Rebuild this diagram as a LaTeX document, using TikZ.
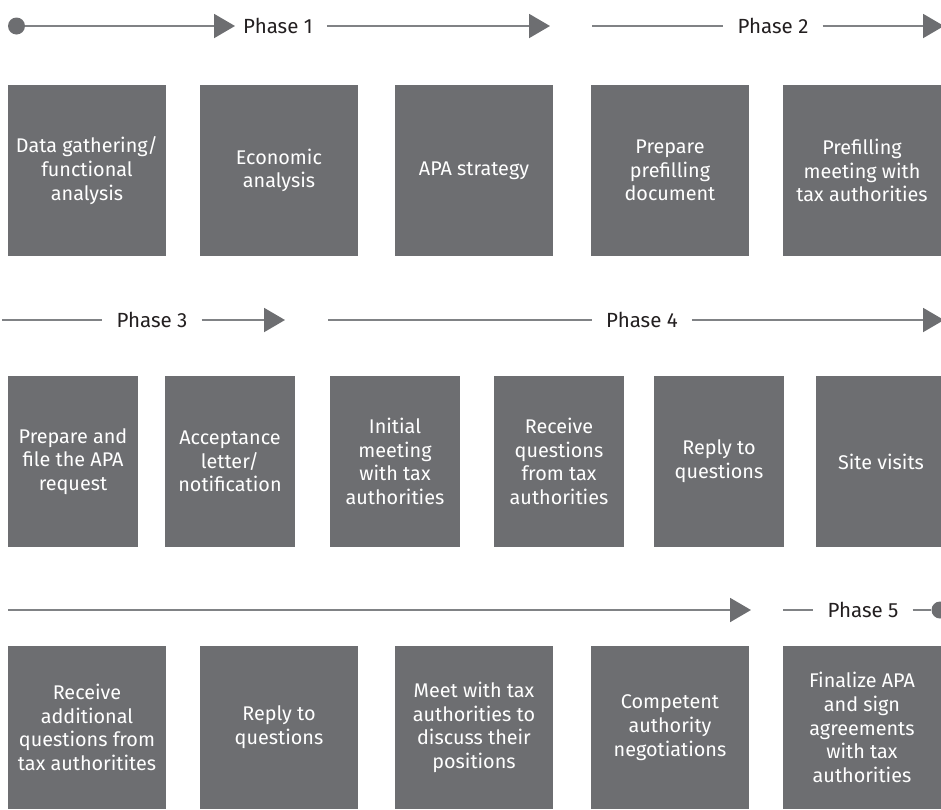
\documentclass[tikz,border=0pt]{standalone}
\usepackage{fontspec}
\setmainfont{Fira Sans}
\usetikzlibrary{arrows.meta}
\definecolor{boxgray}{HTML}{6D6E71}
\definecolor{linegray}{HTML}{808285}
\definecolor{txtdark}{HTML}{231F20}
\begin{document}
\begin{tikzpicture}[x=1pt,y=-1pt,
  stepbox/.style={fill=boxgray, text=white, inner sep=0pt, align=center,
    font=\fontsize{19.8}{23.7}\selectfont},
  widebox/.style={stepbox, minimum width=158pt, minimum height=171pt},
  narrowbox/.style={stepbox, minimum width=130pt, minimum height=171pt},
  lowbox/.style={stepbox, minimum width=158pt, minimum height=163pt},
  phase/.style={text=txtdark, inner ysep=0pt, inner xsep=14pt, font=\fontsize{20.5}{24}\selectfont},
  conn/.style={draw=linegray, line width=2pt},
  arr/.style={conn, -{Triangle[length=21pt,width=24pt,color=boxgray]}},
  dot/.style={circle, fill=boxgray, minimum size=17pt, inner sep=0pt}
]
\useasboundingbox (0,0) rectangle (941,809);

% ---------- Row 1 timeline ----------
\node[dot] (s1) at (16.5,26) {};
\coordinate (t1) at (235,26);
\node[phase] (p1) at (278,26) {Phase 1};
\coordinate (t2) at (550,26);
\coordinate (a2) at (592,26);
\node[phase] (p2) at (773,26) {Phase 2};
\coordinate (t3) at (944,26);
\draw[arr] (s1) -- (t1);
\draw[arr] (p1.east) -- (t2);
\draw[conn] (a2) -- (p2.west);
\draw[arr] (p2.east) -- (t3);

% ---------- Row 1 boxes ----------
\node[widebox] (b11) at (87,170.5) {Data gathering/\\functional\\analysis};
\node[widebox] (b12) at (279,170.5) {Economic\\analysis};
\node[widebox] (b13) at (474,170.5) {APA strategy};
\node[widebox] (b14) at (670,170.5) {Prepare\\prefilling\\document};
\node[widebox] (b15) at (862,170.5) {Prefilling\\meeting with\\tax authorities};

% ---------- Row 2 timeline ----------
\coordinate (a3) at (2,320);
\node[phase] (p3) at (152,320) {Phase 3};
\coordinate (t4) at (285,320);
\coordinate (a4) at (328,320);
\node[phase] (p4) at (642,320) {Phase 4};
\coordinate (t5) at (944,320);
\draw[conn] (a3) -- (p3.west);
\draw[arr] (p3.east) -- (t4);
\draw[conn] (a4) -- (p4.west);
\draw[arr] (p4.east) -- (t5);

% ---------- Row 2 boxes ----------
\node[narrowbox] (b21) at (73,461.5) {Prepare and\\file the APA\\request};
\node[narrowbox] (b22) at (230,461.5) {Acceptance\\letter/\\notification};
\node[narrowbox] (b23) at (395,461.5) {Initial\\meeting\\with tax\\authorities};
\node[narrowbox] (b24) at (559,461.5) {Receive\\questions\\from tax\\authorities};
\node[narrowbox] (b25) at (719,461.5) {Reply to\\questions};
\node[narrowbox] (b26) at (881,461.5) {Site visits};

% ---------- Row 3 timeline ----------
\coordinate (a5) at (8,610);
\coordinate (t6) at (751,610);
\coordinate (a6) at (783,610);
\node[phase] (p5) at (863,610) {Phase 5};
\node[dot] (e5) at (940,610) {};
\draw[arr] (a5) -- (t6);
\draw[conn] (a6) -- (p5.west);
\draw[conn] (p5.east) -- (e5);

% ---------- Row 3 boxes ----------
\node[lowbox] (b31) at (87,727.5) {Receive\\additional\\questions from\\tax authoritites};
\node[lowbox] (b32) at (279,727.5) {Reply to\\questions};
\node[lowbox] (b33) at (474,727.5) {Meet with tax\\authorities to\\discuss their\\positions};
\node[lowbox] (b34) at (670,727.5) {Competent\\authority\\negotiations};
\node[lowbox] (b35) at (862,727.5) {Finalize APA\\and sign\\agreements\\with tax\\authorities};
\end{tikzpicture}
\end{document}
